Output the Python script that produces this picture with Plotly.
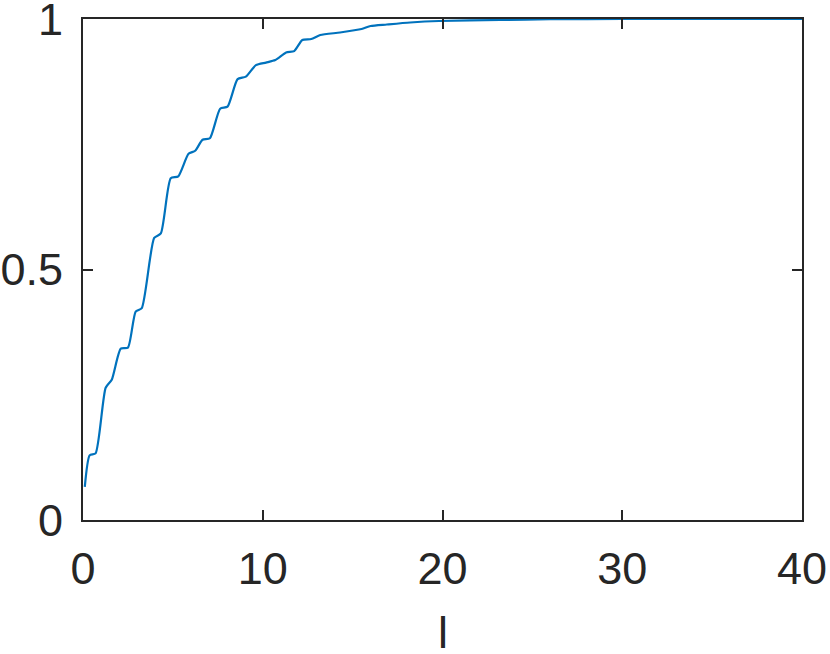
import plotly.graph_objects as go

x_vals = [0.1, 0.37, 0.7, 1.26, 1.6, 2.1, 2.5, 2.93, 3.27, 3.96, 4.33, 4.88, 5.3, 5.87, 6.24,
          6.65, 7.06, 7.63, 8.04, 8.6, 9.06, 9.62, 10.18, 10.7, 11.3, 11.75, 12.2, 12.7, 13.2,
          14.3, 15.5, 16.0, 16.9, 18.2, 19.8, 23.2, 26, 30, 35, 40]
y_vals = [0.066, 0.129, 0.133, 0.264, 0.28, 0.342, 0.344, 0.416, 0.423, 0.563, 0.572, 0.682,
          0.686, 0.731, 0.737, 0.759, 0.762, 0.821, 0.825, 0.880, 0.885, 0.908, 0.913, 0.918,
          0.933, 0.936, 0.958, 0.960, 0.968, 0.973, 0.980, 0.986, 0.989, 0.993, 0.996, 0.998,
          0.9995, 1.0, 1.0, 1.0]
x_ticks = [0, 10, 20, 30, 40]
y_ticks = [0, 0.5, 1]
y_tick_labels = ["0", "0.5", "1"]
x_title = "l"

fig = go.Figure()
fig.add_trace(go.Scatter(x=x_vals, y=y_vals, mode="lines",
                         line=dict(color="#0072BD", width=2.2, shape="spline", smoothing=0.6),
                         showlegend=False))

axis_common = dict(showgrid=False, zeroline=False, showline=True, linecolor="#262626",
                   linewidth=2, mirror="ticks", ticks="inside", ticklen=10, tickwidth=2,
                   tickcolor="#262626", tickfont=dict(size=45, color="#262626"),
                   automargin=False, ticklabeloverflow="allow")

fig.update_xaxes(range=[-0.0001, 40.0001], tickvals=x_ticks, ticktext=[str(t) for t in x_ticks],
                 ticklabelstandoff=8, **axis_common)
fig.update_yaxes(range=[-0.00001, 1.00001], tickvals=y_ticks, ticktext=y_tick_labels,
                 ticklabelstandoff=9, **axis_common)

fig.add_annotation(text=x_title, xref="paper", yref="paper", x=0.5, y=0,
                   xanchor="center", yanchor="top", yshift=-85, showarrow=False,
                   font=dict(size=45, color="#262626"))

fig.update_layout(width=830, height=654, margin=dict(l=83, r=28, t=19, b=134),
                  paper_bgcolor="white", plot_bgcolor="white",
                  font=dict(family="Liberation Sans, Arial, sans-serif", color="#262626"))

fig.write_html("out.html", config={"displayModeBar": False},
               post_script="document.body.style.margin='0px';")
